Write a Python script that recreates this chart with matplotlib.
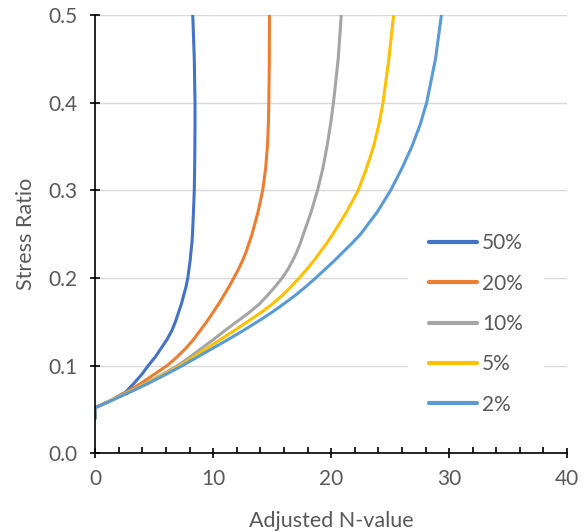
import matplotlib.pyplot as plt
from matplotlib.ticker import MultipleLocator

plt.rcParams['font.family'] = ['Lato', 'DejaVu Sans']

labels = ['50%', '20%', '10%', '5%', '2%']
colors = ['#4472C4', '#ED7D31', '#A5A5A5', '#FFC000', '#5B9BD5']

# stress ratio levels (shared) and adjusted N-value per curve
sr = [0.04, 0.052, 0.06, 0.07, 0.08, 0.09, 0.10, 0.11, 0.12, 0.13, 0.14,
      0.15, 0.16, 0.17, 0.18, 0.19, 0.20, 0.21, 0.22, 0.23, 0.24, 0.25,
      0.275, 0.30, 0.325, 0.35, 0.375, 0.40, 0.45, 0.50]
n_50 = [0.0, 0.0, 1.3, 2.6, 3.3, 3.95, 4.5, 5.1, 5.6, 6.1, 6.5,
        6.8, 7.05, 7.3, 7.5, 7.7, 7.85, 7.95, 8.05, 8.12, 8.2, 8.25,
        8.33, 8.4, 8.43, 8.45, 8.46, 8.46, 8.4, 8.27]
n_20 = [0.0, 0.0, 1.3, 2.7, 3.9, 5.0, 6.1, 6.95, 7.7, 8.35, 8.9,
        9.45, 9.95, 10.45, 10.9, 11.35, 11.75, 12.15, 12.5, 12.8, 13.05, 13.3,
        13.8, 14.2, 14.45, 14.6, 14.68, 14.72, 14.76, 14.77]
n_10 = [0.0, 0.0, 1.3, 2.85, 4.3, 5.7, 7.0, 8.05, 9.05, 10.05, 11.0,
        12.0, 13.0, 13.9, 14.6, 15.25, 15.85, 16.35, 16.75, 17.1, 17.4, 17.65,
        18.3, 18.85, 19.3, 19.65, 19.95, 20.2, 20.6, 20.86]
n_5 = [0.0, 0.0, 1.3, 2.9, 4.4, 5.85, 7.2, 8.35, 9.5, 10.65, 11.8,
       12.9, 14.0, 15.0, 15.85, 16.6, 17.3, 17.95, 18.55, 19.1, 19.65, 20.15,
       21.3, 22.3, 23.0, 23.6, 24.05, 24.4, 24.9, 25.3]
n_2 = [0.0, 0.0, 1.35, 3.0, 4.55, 6.0, 7.4, 8.7, 10.0, 11.3, 12.55,
       13.75, 14.9, 15.95, 16.95, 17.85, 18.7, 19.5, 20.3, 21.05, 21.8, 22.5,
       23.9, 25.05, 26.0, 26.85, 27.55, 28.1, 28.85, 29.35]
series = [n_50, n_20, n_10, n_5, n_2]

fig = plt.figure(figsize=(5.84, 5.32), dpi=100)
ax = fig.add_axes([0.163, 0.148, 0.808, 0.824])

for n, lab, c in zip(series, labels, colors):
    ax.plot(n, sr, color=c, lw=2.2, label=lab, solid_capstyle='round',
            solid_joinstyle='round')

ax.set_xlim(0, 40)
ax.set_ylim(0, 0.5)
ax.xaxis.set_major_locator(MultipleLocator(10))
ax.xaxis.set_minor_locator(MultipleLocator(2))
ax.yaxis.set_major_locator(MultipleLocator(0.1))
ax.yaxis.set_major_formatter(plt.FormatStrFormatter('%.1f'))

ax.grid(axis='y', color='#D9D9D9', lw=1.0)
ax.set_axisbelow(True)
for s in ['top', 'right']:
    ax.spines[s].set_visible(False)
for s in ['left', 'bottom']:
    ax.spines[s].set_color('black')
    ax.spines[s].set_linewidth(1.2)

ax.tick_params(which='major', direction='inout', length=7, width=1.2,
               color='black', labelcolor='#595959', labelsize=15)
ax.tick_params(axis='x', which='major', pad=8)
ax.tick_params(axis='y', which='major', pad=9)
ax.tick_params(axis='x', which='minor', direction='in', length=4, width=1.2,
               color='black')

ax.set_xlabel('Adjusted N-value', fontsize=15.5, color='#595959', labelpad=16)
ax.set_ylabel('Stress Ratio', fontsize=15.5, color='#595959', labelpad=9)

leg = ax.legend(loc='center left', bbox_to_anchor=(0.663, 0.295),
                frameon=True, facecolor='white', edgecolor='none',
                framealpha=1, fontsize=15, labelspacing=0.98,
                handlelength=2.3, handletextpad=0.25, borderpad=1.0,
                borderaxespad=0, fancybox=False)
for t in leg.get_texts():
    t.set_color('#595959')
for h in leg.get_lines():
    h.set_linewidth(3.0)

fig.savefig('out.png', dpi=100)
